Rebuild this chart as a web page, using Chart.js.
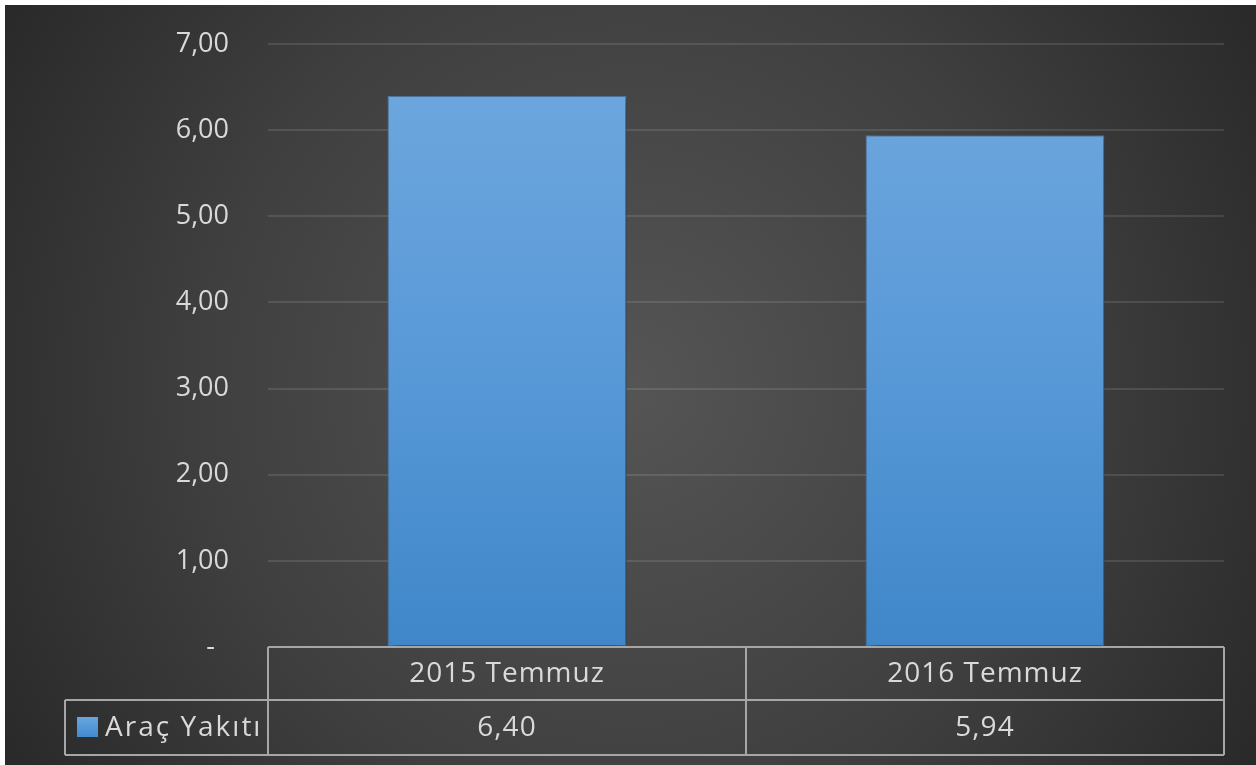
<!DOCTYPE html>
<html>
<head>
<meta charset="utf-8">
<script src="https://cdn.jsdelivr.net/npm/chart.js@4.4.0/dist/chart.umd.min.js"></script>
<style>
  html, body { margin: 0; padding: 0; background: #fff; }
  #wrap { position: absolute; left: 5px; top: 5px; width: 1251px; height: 760px; }
</style>
</head>
<body>
<div id="wrap"><canvas id="fuelChart"></canvas></div>
<script>
const categories = ['2015 Temmuz', '2016 Temmuz']
const seriesName = 'Araç Yakıtı'
const fuelValues = [6.40, 5.94]
const yTicks = [0, 1, 2, 3, 4, 5, 6, 7]

const FONT = "'Open Sans', 'Noto Sans', sans-serif"
const TEXT = '#d9d9d9'
const LINE = '#a6a6a6'

const fmt = v => v.toFixed(2).replace('.', ',')

// dark radial background like the excel theme
const bgPlugin = {
  id: 'bg',
  beforeDraw(chart) {
    const { ctx, width, height } = chart
    ctx.save()
    const g = ctx.createRadialGradient(width * 0.5, height * 0.5, 0, width * 0.5, height * 0.5, width * 0.62)
    g.addColorStop(0, '#555555')
    g.addColorStop(0.55, '#3f3f3f')
    g.addColorStop(1, '#262626')
    ctx.fillStyle = g
    ctx.fillRect(0, 0, width, height)
    ctx.restore()
  }
}

const shadowPlugin = {
  id: 'barShadow',
  beforeDatasetDraw(chart) {
    const ctx = chart.ctx
    ctx.save()
    ctx.shadowColor = 'rgba(0,0,0,0.55)'
    ctx.shadowBlur = 9
    ctx.shadowOffsetX = 3
    ctx.shadowOffsetY = 2
  },
  afterDatasetDraw(chart) {
    chart.ctx.restore()
  }
}

// data table under the plot (excel style)
const tablePlugin = {
  id: 'dataTable',
  afterDraw(chart) {
    const { ctx, chartArea } = chart
    const x = chart.scales.x
    const left = chartArea.left, right = chartArea.right
    const top = chartArea.bottom, mid = top + 53, bottom = top + 108
    const legendLeft = 60
    const divider = (x.getPixelForTick(0) + x.getPixelForTick(1)) / 2

    ctx.save()
    ctx.strokeStyle = LINE
    ctx.lineWidth = 2
    ctx.beginPath()
    ctx.moveTo(left, top); ctx.lineTo(right, top)
    ctx.moveTo(legendLeft, mid); ctx.lineTo(right, mid)
    ctx.moveTo(legendLeft, bottom); ctx.lineTo(right, bottom)
    ctx.moveTo(left, top); ctx.lineTo(left, bottom)
    ctx.moveTo(divider, top); ctx.lineTo(divider, bottom)
    ctx.moveTo(right, top); ctx.lineTo(right, bottom)
    ctx.moveTo(legendLeft, mid); ctx.lineTo(legendLeft, bottom)
    ctx.stroke()

    ctx.fillStyle = TEXT
    ctx.font = '28px ' + FONT
    ctx.letterSpacing = '1px'
    ctx.textAlign = 'center'
    ctx.textBaseline = 'middle'
    categories.forEach((c, i) => {
      const cx = x.getPixelForTick(i)
      ctx.fillText(c, cx, (top + mid) / 2 + 1)
      ctx.fillText(fmt(fuelValues[i]), cx, (mid + bottom) / 2 + 1)
    })

    // legend key
    const kg = ctx.createLinearGradient(0, mid + 17, 0, mid + 37)
    kg.addColorStop(0, '#6aa6e0')
    kg.addColorStop(1, '#418ad0')
    ctx.fillStyle = kg
    ctx.fillRect(72, mid + 17, 21, 20)
    ctx.fillStyle = TEXT
    ctx.textAlign = 'left'
    ctx.letterSpacing = '2px'
    ctx.fillText(seriesName, 100, (mid + bottom) / 2 + 1)
    ctx.restore()
  }
}

const ctx = document.getElementById('fuelChart').getContext('2d')
new Chart(ctx, {
  type: 'bar',
  data: {
    labels: categories,
    datasets: [{
      label: seriesName,
      data: fuelValues,
      backgroundColor: (c) => {
        const area = c.chart.chartArea
        if (!area) return '#5b9bd5'
        const g = c.chart.ctx.createLinearGradient(0, area.top, 0, area.bottom)
        g.addColorStop(0, '#70a8de')
        g.addColorStop(0.5, '#5a9ad9')
        g.addColorStop(1, '#3f87c9')
        return g
      },
      borderColor: '#4f7fb3',
      borderWidth: 1,
      borderSkipped: false,
      categoryPercentage: 1,
      barPercentage: 0.5
    }]
  },
  options: {
    responsive: true,
    maintainAspectRatio: false,
    animation: false,
    devicePixelRatio: 1,
    layout: { padding: { top: 39, right: 32, bottom: 118, left: 0 } },
    plugins: {
      legend: { display: false },
      tooltip: { enabled: false }
    },
    scales: {
      x: { display: false },
      y: {
        min: 0,
        max: 7,
        afterBuildTicks: (scale) => { scale.ticks = yTicks.map(v => ({ value: v })) },
        afterFit: (scale) => { scale.width = 263 },
        border: { display: false },
        grid: {
          color: (c) => c.tick.value === 0 ? 'rgba(0,0,0,0)' : 'rgba(255,255,255,0.11)',
          lineWidth: 2,
          drawTicks: true,
          tickLength: 39,
          tickColor: 'rgba(0,0,0,0)'
        },
        ticks: {
          color: TEXT,
          padding: 0,
          font: { family: FONT, size: 27 },
          callback: (v) => v === 0 ? '-  ' : fmt(v)
        }
      }
    }
  },
  plugins: [bgPlugin, shadowPlugin, tablePlugin]
})
</script>
</body>
</html>
